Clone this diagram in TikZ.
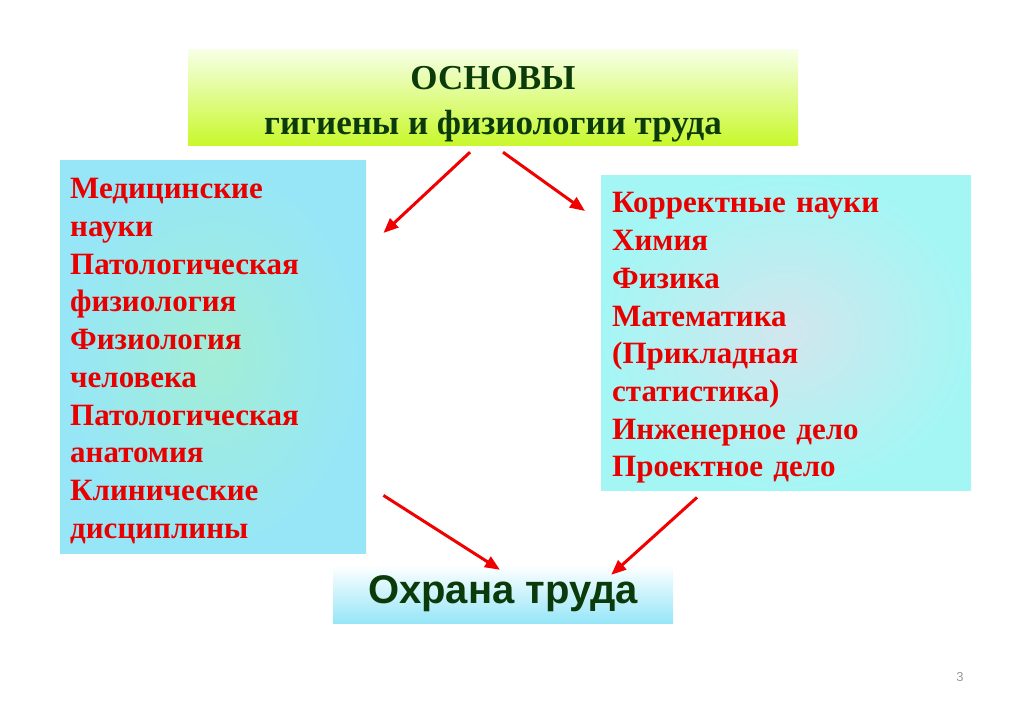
\documentclass[tikz,border=0pt]{standalone}
\usepackage{fontspec}
\setmainfont{Liberation Serif}
\newfontfamily\arialfont{Liberation Sans}
\usetikzlibrary{positioning,arrows.meta,calc}
\definecolor{darkgreen}{HTML}{0B3A0B}
\definecolor{paleyellow}{HTML}{F6FFE6}
\definecolor{yellowgreen}{HTML}{C8F82A}
\definecolor{skycyan}{HTML}{96E6F8}
\definecolor{mintcenter}{HTML}{A2EED6}
\definecolor{aquaedge}{HTML}{A4F6F4}
\definecolor{mistcenter}{HTML}{D2E6EE}
\definecolor{arrowred}{HTML}{F00000}
\definecolor{textred}{HTML}{E80000}
% taller first line pushes the block down a little
\newcommand\toppad[1]{\rule{0pt}{#1}}

\begin{document}
\begin{tikzpicture}[
  x=1pt, y=-1pt,
  titlebox/.style={
    shape=rectangle,
    top color=paleyellow,
    bottom color=yellowgreen,
    minimum width=610,
    minimum height=96,
    align=center,
    text=darkgreen,
    font=\bfseries\fontsize{35}{45}\selectfont,
  },
  listbox/.style={
    shape=rectangle,
    anchor=north west,
    align=left,
    text=textred,
    inner ysep=0pt,
    font=\bfseries\fontsize{31}{37.7}\selectfont,
  },
  medbox/.style={
    listbox,
    inner color=mintcenter,
    outer color=skycyan,
    minimum height=393,
    text width=286,
    inner xsep=10,
  },
  korrbox/.style={
    listbox,
    inner color=mistcenter,
    outer color=aquaedge,
    minimum height=315,
    text width=348,
    inner xsep=11,
  },
  ohranabox/.style={
    shape=rectangle,
    top color=white,
    bottom color=skycyan,
    minimum width=340,
    minimum height=58,
    text=darkgreen,
    font=\arialfont\bfseries\fontsize{40}{48}\selectfont,
  },
  pagenum/.style={
    text=gray!80,
    font=\arialfont\fontsize{13}{15}\selectfont,
  },
  arrow/.style={
    draw=arrowred,
    line width=3pt,
    -{Triangle[length=15pt,width=12pt]},
  }]
  \useasboundingbox (0,0) rectangle (1024,708);

  \node[titlebox] (osnovy) at (493,98) {\toppad{35pt}ОСНОВЫ\\гигиены и физиологии труда};
  \node[medbox] (med) at (60,160) {\toppad{29pt}Медицинские\\науки\\Патологическая\\физиология\\Физиология\\человека\\Патологическая\\анатомия\\Клинические\\дисциплины};
  \node[korrbox] (korr) at (601,175) {\toppad{31pt}Корректные науки\\Химия\\Физика\\Математика\\(Прикладная\\статистика)\\Инженерное дело\\Проектное дело};
  \node[ohranabox] (ohrana) at (503,594) {Охрана труда};
  \node[pagenum] (page) at (960,677) {3};

  % arrow ends
  \coordinate (s1) at ($(osnovy.south)+(-23,6)$);
  \coordinate (e1) at ($(med.north east)+(17,73)$);
  \coordinate (s2) at ($(osnovy.south)+(10,6)$);
  \coordinate (e2) at ($(korr.north west)+(-16,36)$);
  \coordinate (s3) at ($(med.south east)+(17,-58)$);
  \coordinate (e3) at ($(ohrana.north)+(-3,5)$);
  \coordinate (s4) at ($(korr.south west)+(96,7)$);
  \coordinate (e4) at ($(ohrana.north east)+(-62,10)$);

  \draw[arrow] (s1) -- (e1);
  \draw[arrow] (s2) -- (e2);
  \draw[arrow] (s3) -- (e3);
  \draw[arrow] (s4) -- (e4);
\end{tikzpicture}
\end{document}
